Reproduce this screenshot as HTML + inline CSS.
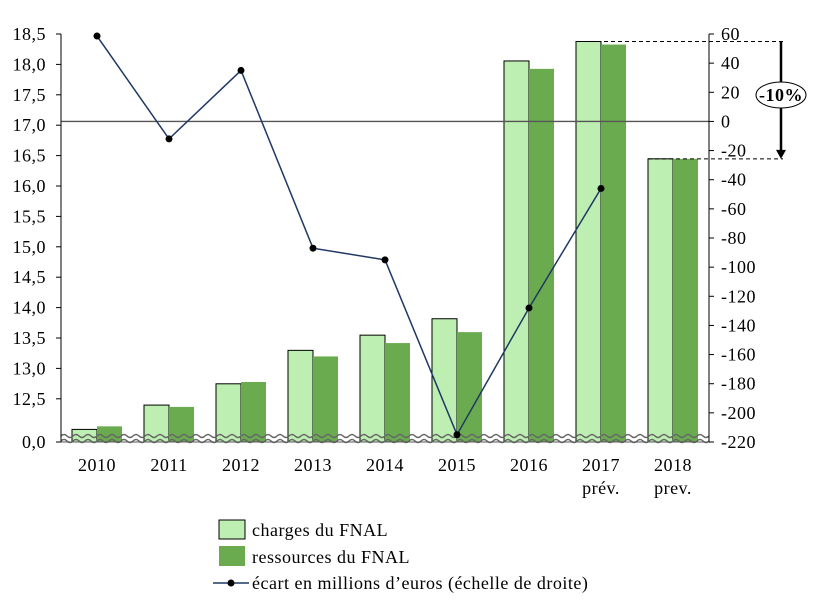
<!DOCTYPE html>
<html><head><meta charset="utf-8"><style>
body{margin:0;background:#fff}
svg text{font-family:"Liberation Serif",serif;font-size:18px;letter-spacing:0.5px;fill:#000}
</style></head><body>
<svg id="c" width="815" height="610"></svg>
<script>
const categories=["2010","2011","2012","2013","2014","2015","2016","2017","2018"];
const sublabels=["","","","","","","","prév.","prev."];
const charges=[12.0,12.4,12.75,13.3,13.55,13.82,18.06,18.38,16.45];
const ressources=[12.05,12.37,12.78,13.2,13.42,13.6,17.93,18.33,16.45];
const ecart=[58.6,-12,35,-87,-95,-215,-128,-46,null];
const leftTicks=["18,5","18,0","17,5","17,0","16,5","16,0","15,5","15,0","14,5","14,0","13,5","13,0","12,5"];
const rightTicks=[60,40,20,0,-20,-40,-60,-80,-100,-120,-140,-160,-180,-200,-220];
const NS="http://www.w3.org/2000/svg",svg=document.getElementById('c');
function el(t,a,p){const e=document.createElementNS(NS,t);for(const k in a)e.setAttribute(k,a[k]);(p||svg).appendChild(e);return e;}
const X0=61,X1=709,step=(X1-X0)/categories.length;
const cx=i=>X0+step/2+step*i;
const yL=v=>399-(v-12.5)/0.5*30.4;
const yR=v=>34+(60-v)*(408/280);
const base=442;
categories.forEach((c,i)=>{
 let b=el('rect',{x:cx(i)-25,y:yL(charges[i]),width:25,height:base-yL(charges[i]),fill:'#bdeeb2',stroke:'#000','stroke-width':1});
 
 let d=el('rect',{x:cx(i),y:yL(ressources[i]),width:25,height:base-yL(ressources[i]),fill:'#6aab50'});
 
 let t=el('text',{x:cx(i),y:471,'text-anchor':'middle'});t.textContent=c;
 
 if(sublabels[i]){let s=el('text',{x:cx(i),y:494,'text-anchor':'middle'});s.textContent=sublabels[i];
 }
});
el('line',{x1:X0,x2:X1,y1:yR(0),y2:yR(0),stroke:'#555','stroke-width':1.3});
[436,441].forEach(y=>{let d='M'+X0+' '+y;for(let x=X0;x<X1;x+=12)d+=' q3 -3 6 0 q3 3 6 0';el('path',{d:d,fill:'none',stroke:'#666','stroke-width':1.5});});
el('line',{x1:X0,x2:X0,y1:34,y2:base,stroke:'#000'});
el('line',{x1:X0,x2:X1,y1:base,y2:base,stroke:'#555'});
el('line',{x1:X1,x2:X1,y1:34,y2:base,stroke:'#000'});
leftTicks.forEach((t,i)=>{const y=34+i*30.4;el('line',{x1:X0-5,x2:X0,y1:y,y2:y,stroke:'#000'});
 let tx=el('text',{x:X0-15,y:y+6,'text-anchor':'end'});tx.textContent=t;});
el('line',{x1:X0-5,x2:X0,y1:base,y2:base,stroke:'#000'});
let z=el('text',{x:X0-15,y:base+6,'text-anchor':'end'});z.textContent="0,0";
rightTicks.forEach(v=>{const y=yR(v);el('line',{x1:X1,x2:X1+5,y1:y,y2:y,stroke:'#000'});
 let tx=el('text',{x:X1+12,y:y+6});tx.textContent=v;});
let pts=[];ecart.forEach((v,i)=>{if(v!==null)pts.push(cx(i)+','+yR(v));});
let pl=el('polyline',{points:pts.join(' '),fill:'none',stroke:'#1f3864','stroke-width':1.5});

ecart.forEach((v,i)=>{if(v===null)return;let c=el('circle',{cx:cx(i),cy:yR(v),r:3.5,fill:'#000'});
 });
const yA=yL(charges[7]),yB=yL(charges[8]);
el('line',{x1:cx(7)-25,x2:783,y1:yA,y2:yA,stroke:'#000','stroke-dasharray':'4,3'});
el('line',{x1:cx(8)-25,x2:783,y1:yB,y2:yB,stroke:'#000','stroke-dasharray':'4,3'});
el('line',{x1:781,x2:781,y1:yA,y2:yB-8,stroke:'#000','stroke-width':2.5});
el('polygon',{points:`776,${yB-9} 786,${yB-9} 781,${yB}`,fill:'#000'});
el('ellipse',{cx:781,cy:95,rx:25,ry:13,fill:'#fff',stroke:'#000'});
let p=el('text',{x:781,y:101,'text-anchor':'middle','font-weight':'bold','letter-spacing':'0'});p.textContent="-10%";
let g=el('g',{});
el('rect',{x:219,y:520,width:26,height:19,fill:'#bdeeb2',stroke:'#000'},g);
let l1=el('text',{x:252,y:536},g);l1.textContent="charges du FNAL";
el('rect',{x:219,y:546,width:26,height:20,fill:'#6aab50'},g);
let l2=el('text',{x:252,y:563},g);l2.textContent="ressources du FNAL";
el('line',{x1:213,x2:249,y1:583,y2:583,stroke:'#1f3864','stroke-width':1.5},g);
el('circle',{cx:231,cy:583,r:3.5,fill:'#000'},g);
let l3=el('text',{x:252,y:589},g);l3.textContent="écart en millions d’euros (échelle de droite)";
</script>
</body></html>
